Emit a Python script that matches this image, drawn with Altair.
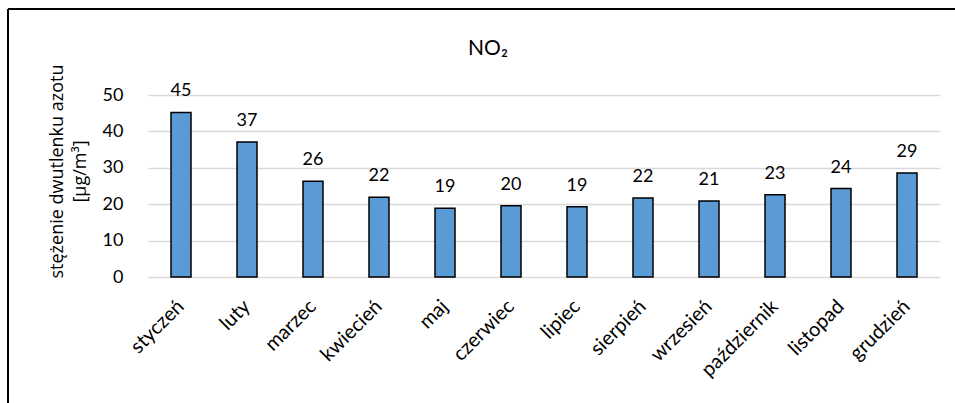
import altair as alt
import pandas as pd

months = ["styczeń", "luty", "marzec", "kwiecień", "maj", "czerwiec",
          "lipiec", "sierpień", "wrzesień", "październik", "listopad", "grudzień"]
values = [45.2, 37.1, 26.3, 21.9, 18.9, 19.6, 19.3, 21.7, 20.9, 22.6, 24.3, 28.6]
y_ticks = [0, 10, 20, 30, 40, 50]

df = pd.DataFrame({"miesiac": months, "wartosc": values})
FONT = "Lato"
TFONT = "Open Sans"

x = alt.X("miesiac:N", sort=months, title=None,
          scale=alt.Scale(paddingInner=0, paddingOuter=0),
          axis=alt.Axis(labelAngle=-45, labelAlign="right", labelBaseline="middle",
                        labelPadding=26, ticks=False, domain=False, labelFontSize=20,
                        labelColor="#000000", labelFont=FONT, grid=False))
y = alt.Y("wartosc:Q", scale=alt.Scale(domain=[0, 50], nice=False),
          axis=alt.Axis(values=y_ticks, title=["stężenie dwutlenku azotu", "[µg/m³]"],
                        titleFontSize=18, titleFontWeight="normal", titleColor="#000000",
                        titleFont=TFONT, titleAngle=-90, titleX=-91, titleY=76,
                        titleAlign="center", titleBaseline="middle", titleLineHeight=23,
                        labelFontSize=18, labelColor="#000000", labelFont=FONT,
                        labelPadding=25, ticks=False, domain=False, labelOverlap=False,
                        gridColor="#D9D9D9", gridWidth=1.3))

base = alt.Chart(df)
bars = base.mark_bar(size=20, color="#5B9BD5", stroke="#000000", strokeWidth=1.5).encode(x=x, y=y)
labels = base.mark_text(dy=-12, baseline="bottom", fontSize=18, font=FONT, color="#000000").encode(
    x=x, y=y, text=alt.Text("wartosc:Q", format=".0f"))

frame_top = alt.Chart(df).mark_rule(color="#000000", strokeWidth=1.5).encode(
    x=alt.value(-140), x2=alt.value(820), y=alt.value(-86))
frame_left = alt.Chart(df).mark_rule(color="#000000", strokeWidth=1.5).encode(
    x=alt.value(-140), y=alt.value(-86), y2=alt.value(320))

chart = alt.layer(frame_top, frame_left, bars, labels).properties(
    width=792, height=182,
    autosize=alt.AutoSizeParams(type="none"),
    padding={"left": 148, "top": 95, "right": 15, "bottom": 126},
    title=alt.TitleParams("NO₂", fontSize=21, font=FONT, fontWeight="normal",
                          color="#000000", anchor="middle", dx=-56, offset=0, dy=68,
                          baseline="alphabetic"),
).configure_view(stroke=None).configure_axisY(
    titleFontSize=18, titleFont=TFONT, titleFontWeight="normal"
).configure_title(fontSize=21, font=FONT, fontWeight="normal")

chart.save("out.html", embed_options={"renderer": "svg", "actions": False})
